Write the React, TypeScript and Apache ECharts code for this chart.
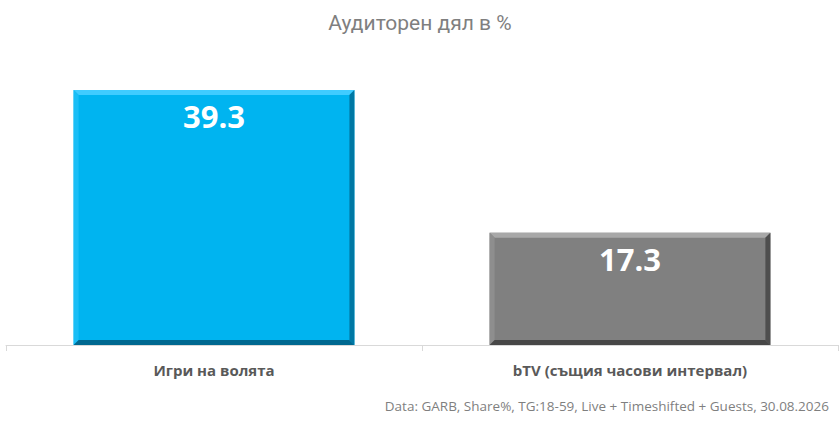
import React, { useEffect, useRef } from "react";
import * as echarts from "echarts";

const categories = ["Игри на волята", "bTV (същия часови интервал)"];
const values = [39.3, 17.3];
const palettes = [
  { main: "#00B4F0", top: "#40CCFF", left: "#1ABEF6", right: "#0078A4", bottom: "#006890" },
  { main: "#808080", top: "#A8A8A8", left: "#8E8E8E", right: "#4E4E4E", bottom: "#474747" },
];
const titleText = "Аудиторен дял в %";
const footnote = "Data: GARB, Share%, TG:18-59, Live + Timeshifted + Guests, 30.08.2026";

export default function App() {
  const ref = useRef<HTMLDivElement>(null);
  useEffect(() => {
    if (!ref.current) return;
    const chart = echarts.init(ref.current, null, { renderer: "svg" });
    const font = "'Open Sans', 'Noto Sans', sans-serif";
    chart.setOption({
      animation: false,
      title: {
        text: titleText,
        left: "center",
        top: 7,
        textStyle: { color: "#7F7F7F", fontSize: 21, fontWeight: "normal", fontFamily: "'Liberation Sans Narrow', 'Roboto', sans-serif" },
      },
      grid: { left: 6, right: 2, top: 53, bottom: 83 },
      xAxis: {
        type: "category",
        data: categories,
        axisLine: { lineStyle: { color: "#D9D9D9", width: 1 } },
        axisTick: { show: true, length: 6, lineStyle: { color: "#D9D9D9" } },
        axisLabel: { color: "#595959", fontSize: 15, fontWeight: "bold", fontFamily: font, margin: 17 },
      },
      yAxis: { type: "value", min: 0, max: 45, show: false, splitLine: { show: false } },
      graphic: [
        {
          type: "text",
          right: 11,
          top: 399,
          style: { text: footnote, fill: "#7F7F7F", fontSize: 13.5, fontFamily: font },
        },
      ],
      series: [
        {
          type: "custom",
          data: values.map((v, i) => [i, v]),
          renderItem: (params: any, api: any) => {
            const idx = api.value(0);
            const val = api.value(1);
            const p = palettes[idx];
            const top = api.coord([idx, val]);
            const base = api.coord([idx, 0]);
            const band = api.size([1, 0])[0];
            const w = band * 0.675;
            const x0 = top[0] - w / 2;
            const x1 = top[0] + w / 2;
            const y0 = top[1];
            const y1 = base[1];
            const b = 5;
            return {
              type: "group",
              children: [
                { type: "rect", shape: { x: x0, y: y0, width: w, height: y1 - y0 }, style: { fill: p.main } },
                { type: "polygon", shape: { points: [[x0, y0], [x1, y0], [x1 - b, y0 + b], [x0 + b, y0 + b]] }, style: { fill: p.top } },
                { type: "polygon", shape: { points: [[x0, y0], [x0 + b, y0 + b], [x0 + b, y1 - b], [x0, y1]] }, style: { fill: p.left } },
                { type: "polygon", shape: { points: [[x1, y0], [x1, y1], [x1 - b, y1 - b], [x1 - b, y0 + b]] }, style: { fill: p.right } },
                { type: "polygon", shape: { points: [[x0, y1], [x0 + b, y1 - b], [x1 - b, y1 - b], [x1, y1]] }, style: { fill: p.bottom } },
                {
                  type: "text",
                  style: {
                    text: val.toFixed(1),
                    x: top[0],
                    y: y0 + 11,
                    fill: "#FFFFFF",
                    fontSize: 31,
                    fontWeight: "bold",
                    fontFamily: font,
                    align: "center",
                    verticalAlign: "top",
                  },
                },
              ],
            };
          },
        },
      ],
    });
    return () => chart.dispose();
  }, []);
  return <div ref={ref} style={{ width: 840, height: 428, position: "absolute", left: 0, top: 0 }} />;
}
